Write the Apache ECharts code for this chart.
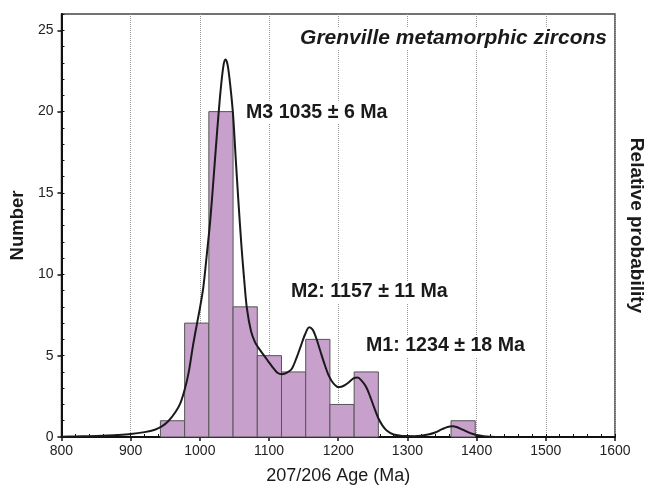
<!DOCTYPE html>
<html>
<head>
<meta charset="utf-8">
<script src="https://cdn.jsdelivr.net/npm/echarts@6/dist/echarts.min.js"></script>
<style>
html,body{margin:0;padding:0;background:#fff;}
#chart{width:654px;height:491px;}
</style>
</head>
<body>
<div id="chart"></div>
<script>
// Histogram bins (Ma) and counts
const binStart = [943, 978, 1013, 1048, 1083, 1118, 1153, 1188, 1223, 1363];
const binEnd   = [978, 1013, 1048, 1083, 1118, 1153, 1188, 1223, 1258, 1398];
const binCount = [1, 7, 20, 8, 5, 4, 6, 2, 4, 1];

// Relative probability curve (scaled to count axis)
const curveAge = [800, 820, 840, 860, 880, 900, 920, 935, 945, 955, 965, 972, 978, 984, 990, 996,
  1000, 1005, 1010, 1015, 1020, 1025, 1030, 1034, 1037, 1040, 1044, 1048, 1052, 1056, 1060, 1064,
  1068, 1074, 1080, 1086, 1092, 1098, 1105, 1112, 1119, 1126, 1133, 1140, 1146, 1152, 1158, 1163,
  1168, 1174, 1180, 1186, 1192, 1198, 1202, 1208, 1215, 1222, 1228, 1234, 1240, 1246, 1252, 1258,
  1264, 1270, 1280, 1290, 1300, 1310, 1320, 1330, 1340, 1350, 1358, 1365, 1372, 1380, 1390, 1400,
  1410, 1420, 1440];
const curveProb = [0.02, 0.03, 0.05, 0.08, 0.12, 0.18, 0.3, 0.45, 0.65, 1.0, 1.55, 2.1, 2.9, 4.0, 5.6, 7.0,
  7.9, 9.2, 11.2, 13.3, 16.0, 18.8, 21.3, 22.8, 23.2, 22.9, 21.6, 19.8, 17.0, 14.3, 11.8, 9.7,
  7.9, 6.5, 5.8, 5.4, 5.05, 4.7, 4.3, 3.95, 3.85, 3.95, 4.2, 4.9, 5.6, 6.3, 6.75, 6.6,
  6.1, 5.3, 4.5, 3.8, 3.35, 3.1, 3.07, 3.15, 3.35, 3.6, 3.65, 3.45, 3.1, 2.5, 1.8, 1.15,
  0.7, 0.4, 0.15, 0.08, 0.06, 0.05, 0.08, 0.15, 0.28, 0.48, 0.62, 0.66, 0.6, 0.45, 0.25, 0.12,
  0.05, 0.02, 0.0];

const yTickValues = [0, 5, 10, 15, 20, 25];
const title = 'Grenville metamorphic zircons';
const peakLabels = ['M3 1035 ± 6 Ma', 'M2: 1157 ± 11 Ma', 'M1: 1234 ± 18 Ma'];

const FONT = "'Liberation Sans', Arial, Helvetica, sans-serif";
const chart = echarts.init(document.getElementById('chart'), null, {renderer: 'canvas'});

const histData = binStart.map((s, i) => [s, binEnd[i], binCount[i]]);
const curveData = curveAge.map((a, i) => [a, curveProb[i]]);

const labelStyle = {
  fontFamily: FONT, fontWeight: 'bold', fontSize: 19.6, fill: '#1a1a1a',
  backgroundColor: '#fff', padding: [1, 2]
};

chart.setOption({
  animation: false,
  backgroundColor: '#fff',
  grid: {left: 61, right: 36, top: 14, bottom: 54, show: true, borderColor: '#444', borderWidth: 1.5, backgroundColor: 'transparent'},
  xAxis: [{
    type: 'value', min: 800, max: 1600, interval: 100, position: 'bottom',
    name: '207/206 Age (Ma)', nameLocation: 'middle', nameGap: 30,
    nameTextStyle: {fontFamily: FONT, fontSize: 18, color: '#1a1a1a'},
    axisLine: {show: true, onZero: false, lineStyle: {color: '#111', width: 2}},
    axisTick: {show: true, inside: false, length: 4, lineStyle: {color: '#111', width: 1.5}},
    axisLabel: {fontFamily: FONT, fontSize: 14, color: '#222', margin: 7, formatter: v => String(v)},
    splitLine: {show: true, lineStyle: {color: '#999', type: 'dotted', width: 1}}
  }, {
    type: 'value', min: 800, max: 1600, interval: 20, position: 'bottom',
    axisLine: {show: false}, axisLabel: {show: false}, splitLine: {show: false},
    axisTick: {show: true, inside: true, length: 3, lineStyle: {color: '#111', width: 1}}
  }],
  yAxis: [{
    type: 'value', min: 0, max: 26, interval: 5, position: 'left',
    name: 'Number', nameLocation: 'middle', nameGap: 31,
    nameTextStyle: {fontFamily: FONT, fontSize: 18.5, fontWeight: 'bold', color: '#1a1a1a'},
    axisLine: {show: true, onZero: false, lineStyle: {color: '#111', width: 2}},
    axisTick: {show: true, inside: false, length: 4, customValues: yTickValues, lineStyle: {color: '#111', width: 1.5}},
    axisLabel: {fontFamily: FONT, fontSize: 14, color: '#222', margin: 8, customValues: yTickValues, formatter: v => String(v)},
    splitLine: {show: false}
  }, {
    type: 'value', min: 0, max: 26, position: 'right',
    name: 'Relative probability', nameLocation: 'middle', nameGap: 12, nameRotate: -90,
    nameTextStyle: {fontFamily: FONT, fontSize: 19, fontWeight: 'bold', color: '#1a1a1a'},
    axisLine: {show: false}, axisTick: {show: false}, axisLabel: {show: false}, splitLine: {show: false}
  }, {
    type: 'value', min: 0, max: 26, interval: 1, position: 'left',
    axisLine: {show: false}, axisLabel: {show: false}, splitLine: {show: false},
    axisTick: {show: true, inside: true, length: 3, lineStyle: {color: '#111', width: 1}}
  }],
  series: [{
    type: 'custom',
    xAxisIndex: 0, yAxisIndex: 0,
    data: histData,
    encode: {x: [0, 1], y: 2},
    renderItem: function (params, api) {
      const p0 = api.coord([api.value(0), api.value(2)]);
      const p1 = api.coord([api.value(1), 0]);
      return {
        type: 'rect',
        shape: {x: p0[0], y: p0[1], width: p1[0] - p0[0], height: p1[1] - p0[1]},
        style: {fill: '#c8a0cc', stroke: '#555', lineWidth: 1}
      };
    },
    z: 2
  }, {
    type: 'line',
    xAxisIndex: 0, yAxisIndex: 1,
    data: curveData,
    showSymbol: false, symbol: 'none',
    smooth: 0.3,
    lineStyle: {color: '#1a1a1a', width: 2},
    z: 3
  }],
  graphic: [
    {type: 'text', right: 45, top: 27, z: 10, style: Object.assign({}, labelStyle, {text: title, fontStyle: 'italic', fontSize: 21})},
    {type: 'text', left: 244, top: 102, z: 10, style: Object.assign({}, labelStyle, {text: peakLabels[0]})},
    {type: 'text', left: 289, top: 281, z: 10, style: Object.assign({}, labelStyle, {text: peakLabels[1]})},
    {type: 'text', left: 364, top: 335, z: 10, style: Object.assign({}, labelStyle, {text: peakLabels[2]})}
  ]
});
</script>
</body>
</html>
